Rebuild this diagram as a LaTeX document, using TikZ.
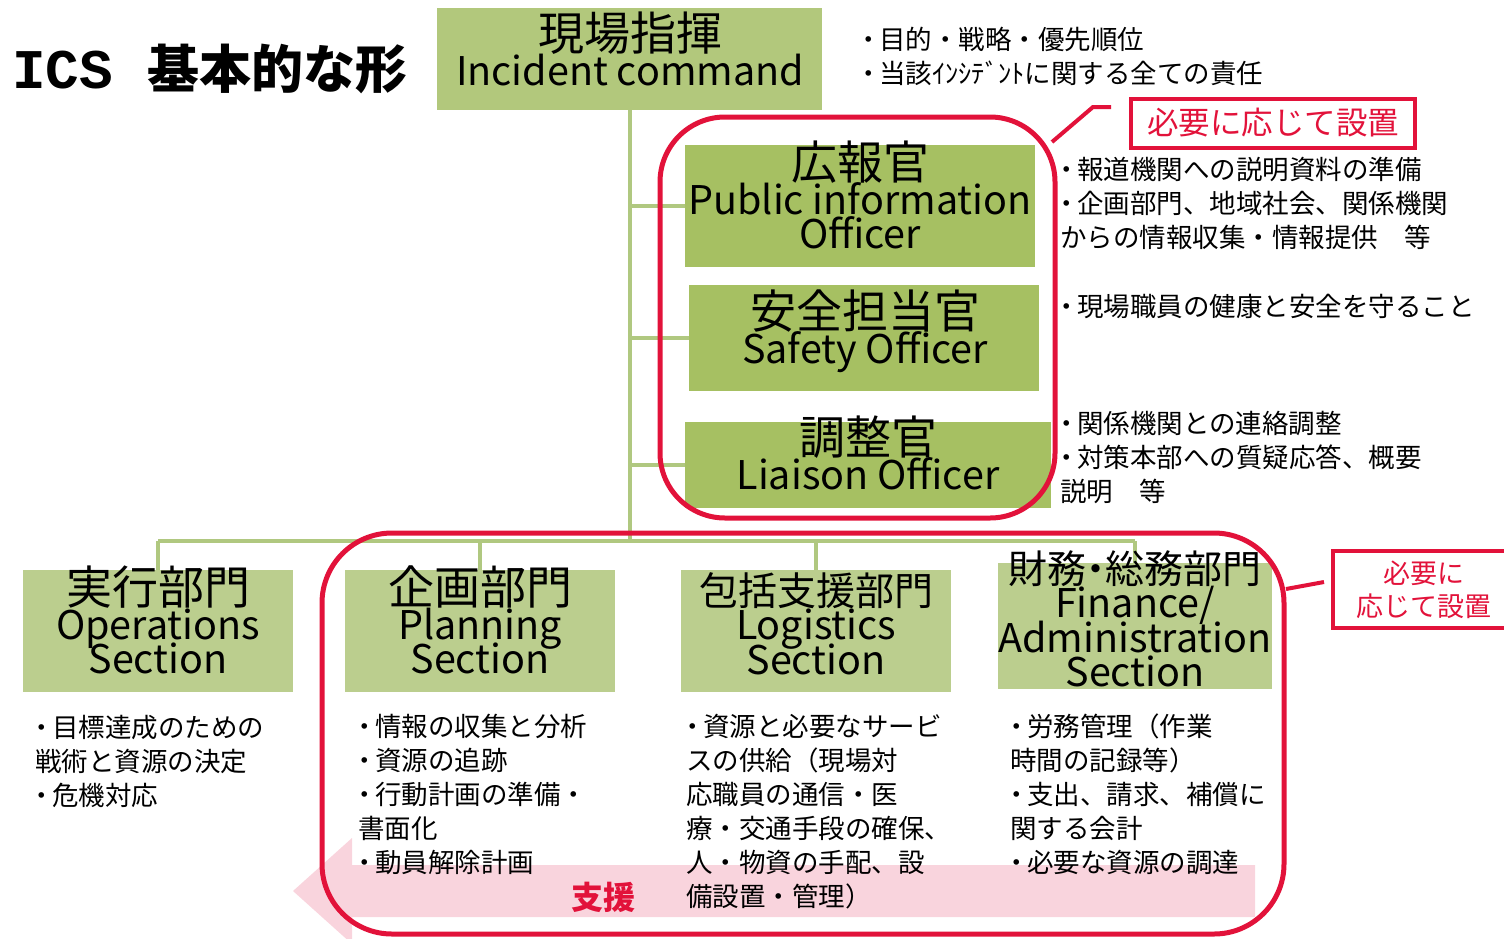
\documentclass[tikz,border=0pt]{standalone}
\usepackage{fontspec}
\setmainfont{Noto Sans CJK JP}
\newfontfamily\headfont{Noto Sans CJK JP}[RawFeature=+palt]
\newfontfamily\titlemono{Liberation Mono}
\newcommand\JBig[1]{{\fontsize{46}{34}\selectfont #1}}
\newcommand\JMid[1]{{\fontsize{39}{34}\selectfont #1}}
\newcommand\bu{\makebox[17pt][l]{\hspace{-7pt}・}}
\definecolor{icgreen}{RGB}{178,200,124}
\definecolor{offgreen}{RGB}{166,192,98}
\definecolor{secgreen}{RGB}{187,206,142}
\definecolor{lgreen}{RGB}{176,200,128}
\definecolor{redc}{RGB}{226,18,58}
\definecolor{pinkc}{RGB}{249,212,221}
\begin{document}
\begin{tikzpicture}[x=1pt,y=-1pt,
  gbox/.style={inner sep=0pt, draw=none},
  head/.style={anchor=north, inner sep=0pt, align=center, font={\headfont\fontsize{39.5}{34.5}\selectfont\lineskiplimit=-100pt\lineskip=0pt}},
  bul/.style={anchor=north west, inner sep=0pt, align=left, font={\fontsize{26.5}{34}\selectfont\lineskiplimit=-100pt\lineskip=0pt}},
  gline/.style={draw=lgreen, line width=4pt},
  redframe/.style={draw=redc, line width=5pt, inner sep=0pt},
  redline/.style={draw=redc, line width=4pt},
  redlabel/.style={draw=redc, line width=4pt, inner sep=0pt, text=redc, align=center}
]
\useasboundingbox (0,0) rectangle (1504,938);
\clip (0,0) rectangle (1504,938);

% support arrow (background)
\fill[pinkc] (1255,865) -- (352,865) -- (352,838) -- (293,891) -- (352,944) -- (352,917) -- (1255,917) -- cycle;

% title
\node[anchor=base west, inner sep=0pt] (title) at (12,88)
  {\fontsize{56}{60}\selectfont\titlemono\bfseries ICS\hspace{34pt}\fontsize{52}{60}\selectfont\rmfamily\bfseries 基本的な形};

% boxes
\node[gbox, fill=icgreen, minimum width=385pt, minimum height=102pt] (ic) at (629.5,59) {};
\node[gbox, fill=offgreen, minimum width=350pt, minimum height=122pt] (pio) at (860,206) {};
\node[gbox, fill=offgreen, minimum width=350pt, minimum height=106pt] (saf) at (864,338) {};
\node[gbox, fill=offgreen, minimum width=366pt, minimum height=86pt] (lia) at (868,465) {};
\node[gbox, fill=secgreen, minimum width=270pt, minimum height=122pt] (ops) at (158,631) {};
\node[gbox, fill=secgreen, minimum width=270pt, minimum height=122pt] (pln) at (480,631) {};
\node[gbox, fill=secgreen, minimum width=270pt, minimum height=122pt] (log) at (816,631) {};
\node[gbox, fill=secgreen, minimum width=274pt, minimum height=126pt] (fin) at (1135,626) {};

% connectors
\coordinate (busL) at (158,541);
\coordinate (busR) at (1135,541);
\draw[gline] (ic.south) -- (ic.south |- busL);
\draw[gline] (busL) -- (busR);
\draw[gline] (ic.south |- pio.west) -- (pio.west);
\draw[gline] (ic.south |- saf.west) -- (saf.west);
\draw[gline] (ic.south |- lia.west) -- (lia.west);
\draw[gline] (busL) -- (ops.north);
\draw[gline] (pln.north |- busL) -- (pln.north);
\draw[gline] (log.north |- busL) -- (log.north);
\draw[gline] (busR) -- (fin.north);

% box texts
\node[head] (ict) at (630,12) {\JBig{現場指揮}\\Incident command};
\node[head] (piot) at (860,141) {\JBig{広報官}\\Public information\\Officer};
\node[head] (saft) at (865,290) {\JBig{安全担当官}\\Safety Officer};
\node[head] (liat) at (868,416) {\JBig{調整官}\\Liaison Officer};
\node[head] (opst) at (158,566) {\JBig{実行部門}\\Operations\\Section};
\node[head] (plnt) at (480,566) {\JBig{企画部門}\\Planning\\Section};
\node[head] (logt) at (816,572) {\JMid{包括支援部門}\\Logistics\\Section};
\node[head] (fint) at (1135,550) {\JMid{財務・総務部門}\\Finance/\\Administration\\Section};

% description texts
\node[bul] (icd) at (862,27) {\bu 目的・戦略・優先順位\\\bu 当該ｲﾝｼﾃﾞﾝﾄに関する全ての責任};
\node[bul] (piod) at (1060,157) {\bu 報道機関への説明資料の準備\\\bu 企画部門、地域社会、関係機関\\からの情報収集・情報提供　等};
\node[bul] (safd) at (1060,294) {\bu 現場職員の健康と安全を守ること};
\node[bul] (liad) at (1060,411) {\bu 関係機関との連絡調整\\\bu 対策本部への質疑応答、概要\\説明　等};
\node[bul] (opsd) at (35,715) {\bu 目標達成のための\\戦術と資源の決定\\\bu 危機対応};
\node[bul] (plnd) at (358,714) {\bu 情報の収集と分析\\\bu 資源の追跡\\\bu 行動計画の準備・\\書面化\\\bu 動員解除計画};
\node[bul] (logd) at (686,714) {\bu 資源と必要なサービ\\スの供給（現場対\\応職員の通信・医\\療・交通手段の確保、\\人・物資の手配、設\\備設置・管理）};
\node[bul] (find) at (1010,714) {\bu 労務管理（作業\\時間の記録等）\\\bu 支出、請求、補償に\\関する会計\\\bu 必要な資源の調達};

\node[inner sep=0pt, text=redc, font=\fontsize{32}{36}\selectfont\bfseries] (shien) at (603,897) {支援};

% red groups
\node[redframe, rounded corners=65pt, minimum width=395pt, minimum height=401pt] (grp1) at (857.5,317.5) {};
\node[redframe, rounded corners=70pt, minimum width=962pt, minimum height=401pt] (grp2) at (803,733.5) {};

% labels and callouts
\node[redlabel, minimum width=284pt, minimum height=49pt, font=\fontsize{31.5}{34}\selectfont] (lab1) at (1273,123) {必要に応じて設置};
\node[redlabel, minimum width=182pt, minimum height=77pt, font=\fontsize{27}{33}\selectfont] (lab2) at (1424,589.5) {必要に\\応じて設置};
\coordinate (c1a) at (1052,142);
\coordinate (c1b) at (1093,107);
\coordinate (c1c) at (1111,107);
\draw[redline] (c1a) -- (c1b) -- (c1c);
\coordinate (c2a) at (1286,589);
\coordinate (c2b) at (1324,582);
\draw[redline] (c2a) -- (c2b);
\end{tikzpicture}
\end{document}
